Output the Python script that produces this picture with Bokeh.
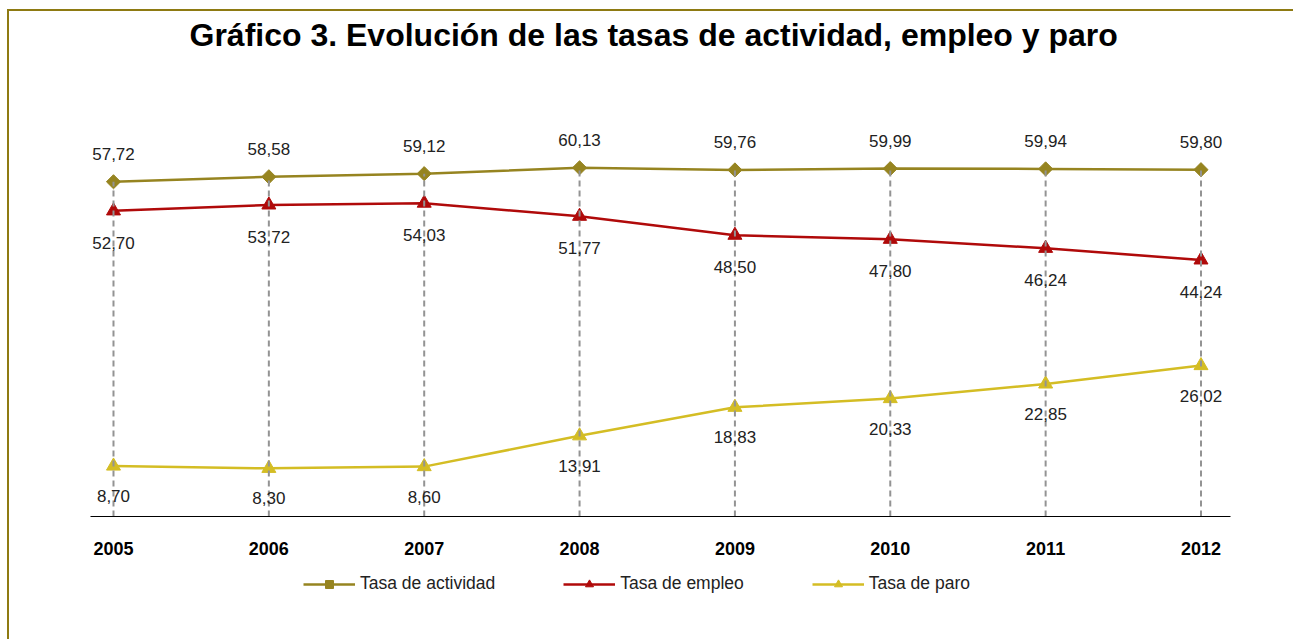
import math
from bokeh.plotting import figure
from bokeh.layouts import column
from bokeh.models import ColumnDataSource, FixedTicker, Legend, LegendItem, LabelSet, Range1d
from bokeh.core.properties import value
from bokeh.embed import file_html
from bokeh.resources import INLINE

years = [2005, 2006, 2007, 2008, 2009, 2010, 2011, 2012]
actividad = [57.72, 58.58, 59.12, 60.13, 59.76, 59.99, 59.94, 59.80]
empleo = [52.70, 53.72, 54.03, 51.77, 48.50, 47.80, 46.24, 44.24]
paro = [8.70, 8.30, 8.60, 13.91, 18.83, 20.33, 22.85, 26.02]
series_names = ["Tasa de actividad", "Tasa de empleo", "Tasa de paro"]
title_text = "Gráfico 3. Evolución de las tasas de actividad, empleo y paro"

C_ACT = "#968420"
C_EMP = "#B00A0A"
C_PARO = "#D4BD24"
C_BORDER = "#8E7A12"
FONT = "Liberation Sans"

def fmt(v):
    return f"{v:.2f}".replace(".", ",")

src = ColumnDataSource(dict(
    x=years, act=actividad, emp=empleo, paro=paro,
    act_l=[fmt(v) for v in actividad],
    emp_l=[fmt(v) for v in empleo],
    paro_l=[fmt(v) for v in paro],
    zero=[0] * len(years),
))

# ---------------- main chart ----------------
p = figure(width=1284, height=551, output_backend="svg", toolbar_location=None,
           x_range=Range1d(2004.852, 2012.19), y_range=Range1d(0, 78.8),
           y_axis_location=None, min_border_left=81, min_border_right=63,
           min_border_top=47, min_border_bottom=46,
           title=title_text)
p.outline_line_color = None
p.xgrid.visible = False
p.ygrid.visible = False

p.title.align = "left"
p.title.offset = 99
p.title.standoff = 10
p.title.vertical_align = "top"
p.title.text_font = FONT
p.title.text_font_size = "32px"
p.title.text_font_style = "bold"
p.title.text_color = "#000000"

ax = p.xaxis[0]
ax.ticker = FixedTicker(ticks=years)
ax.major_tick_line_color = None
ax.minor_tick_line_color = None
ax.axis_line_color = "#000000"
ax.axis_line_width = 1
ax.major_label_text_font = FONT
ax.major_label_text_font_size = "18px"
ax.major_label_text_font_style = "bold"
ax.major_label_text_color = "#000000"
ax.major_label_standoff = 19

def draw_series(fig, col, color, marker):
    ln = fig.line("x", col, source=src, line_color=color, line_width=2.5)
    if marker == "diamond":
        mk = fig.scatter("x", col, source=src, marker="square", angle=math.pi / 4, size=10,
                         fill_color=color, line_color=color)
    else:
        mk = fig.scatter("x", col, source=src, marker="triangle", size=14,
                         fill_color=color, line_color=color)
    return ln, mk

draw_series(p, "act", C_ACT, "diamond")
draw_series(p, "emp", C_EMP, "triangle")
draw_series(p, "paro", C_PARO, "triangle")

p.segment(x0="x", y0="zero", x1="x", y1="act", source=src, line_color="#939393",
          line_width=2, line_dash="6 4")

common = dict(source=src, text_font=value(FONT), text_font_size=value("17px"),
              text_color=value("#222222"),
              text_align=value("center"), text_baseline=value("middle"))
p.add_layout(LabelSet(x="x", y="act", text="act_l", y_offset=28, **common))
p.add_layout(LabelSet(x="x", y="emp", text="emp_l", y_offset=-32, **common))
p.add_layout(LabelSet(x="x", y="paro", text="paro_l", y_offset=-30, **common))

# ---------------- legend strip (series drawn out of view, only legend shown) ----------------
q = figure(width=1284, height=77, output_backend="svg", toolbar_location=None,
           x_range=Range1d(0, 1), y_range=Range1d(0, 1),
           x_axis_location=None, y_axis_location=None,
           min_border_left=0, min_border_right=0, min_border_top=0, min_border_bottom=0)
q.outline_line_color = None
q.xgrid.visible = False
q.ygrid.visible = False

ql_act, qm_act = draw_series(q, "act", C_ACT, "diamond")
ql_emp, qm_emp = draw_series(q, "emp", C_EMP, "triangle")
ql_paro, qm_paro = draw_series(q, "paro", C_PARO, "triangle")

legend = Legend(items=[
    LegendItem(label=series_names[0], renderers=[ql_act, qm_act]),
    LegendItem(label=series_names[1], renderers=[ql_emp, qm_emp]),
    LegendItem(label=series_names[2], renderers=[ql_paro, qm_paro]),
], orientation="horizontal", location=(213, 45))
legend.glyph_width = 52
legend.glyph_height = 20
legend.label_standoff = 5
legend.spacing = 68
legend.padding = 4
legend.margin = 0
legend.border_line_color = None
legend.background_fill_alpha = 0
legend.label_text_font = FONT
legend.label_text_font_size = "17.5px"
legend.label_text_color = "#222222"
q.add_layout(legend)

layout = column(p, q, spacing=0,
                styles={"margin-left": "7px", "margin-top": "9px",
                        "border-left": f"2px solid {C_BORDER}",
                        "border-top": f"2px solid {C_BORDER}"})

open("out.html", "w").write(file_html(layout, INLINE))
